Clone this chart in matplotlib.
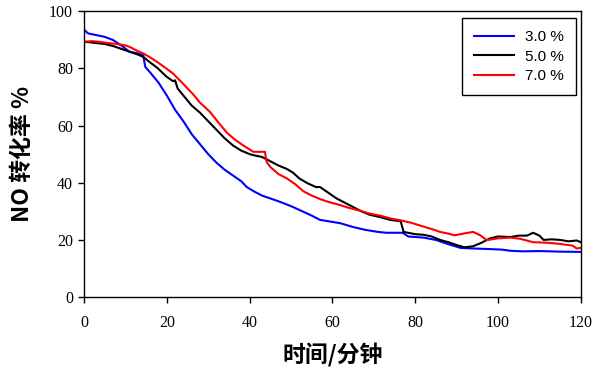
import matplotlib
matplotlib.use("Agg")
import matplotlib.pyplot as plt

# ---- data ----
t_3 = [0, 1, 3, 5, 7, 9, 11, 13, 14.3, 14.8, 16, 18, 20, 22, 24, 26, 28, 30, 32, 34, 36, 38, 39.3,
       41, 43, 45, 47, 50, 52, 55, 57, 60, 62, 65, 68, 71, 73, 77, 78.3, 82, 85, 88, 91, 94, 98,
       101, 103, 106, 110, 115, 120]
v_3 = [93.5, 92.2, 91.6, 91.0, 89.9, 88.0, 85.8, 85.2, 84.5, 80.5, 78.5, 75.0, 70.5, 65.5, 61.5,
       57.0, 53.5, 50.0, 47.0, 44.5, 42.5, 40.5, 38.5, 37.0, 35.5, 34.5, 33.5, 31.8, 30.5, 28.5,
       27.0, 26.3, 25.8, 24.5, 23.5, 22.8, 22.5, 22.5, 21.2, 20.8, 20.0, 18.5, 17.2, 17.0, 16.8,
       16.6, 16.2, 16.0, 16.1, 15.9, 15.8]

t_5 = [0, 2, 5, 7, 9, 11, 13, 14.3, 16, 17.6, 20, 21.5, 22, 22.6, 24, 26, 28, 30, 32, 34, 36, 38,
       40, 41, 43, 45, 47, 49, 50.5, 52, 54, 56, 57, 59, 61, 63, 65, 67, 69, 72, 74, 76.5, 77.2,
       80, 82, 84, 86, 88, 90, 92, 94, 96, 98, 100, 103, 105, 107, 108.5, 110, 111, 113, 115,
       117, 119, 120]
v_5 = [89.3, 89.0, 88.5, 87.8, 86.8, 85.8, 84.8, 84.0, 82.0, 80.3, 77.0, 75.5, 75.8, 73.0, 70.5,
       67.0, 64.5, 61.5, 58.5, 55.5, 53.0, 51.2, 50.0, 49.6, 49.0, 47.5, 46.0, 44.8, 43.5, 41.5,
       39.8, 38.5, 38.5, 36.5, 34.5, 33.0, 31.5, 30.0, 28.8, 27.8, 27.0, 26.5, 22.8, 22.0, 21.8,
       21.2, 20.0, 19.2, 18.2, 17.4, 17.8, 19.0, 20.5, 21.2, 21.0, 21.5, 21.5, 22.5, 21.5, 20.0,
       20.2, 20.0, 19.5, 19.8, 19.2]

t_7 = [0, 2, 4, 6, 8, 10, 11, 13, 14.3, 16, 17.6, 20, 21.5, 24, 26.3, 28, 30.4, 32.5, 34.5, 36.5,
       38.5, 40.9, 43.7, 44.1, 45, 47, 49, 51, 53, 55, 57, 59, 61.8, 64, 66.7, 69, 71.5, 74, 76.3,
       79, 81.2, 84, 86, 88, 89.5, 92, 94, 95.6, 97.3, 99.7, 103, 105.3, 108.5, 112, 115, 118,
       119, 120]
v_7 = [89.3, 89.5, 89.2, 88.8, 88.5, 88.0, 87.5, 86.0, 85.2, 83.8, 82.3, 79.8, 78.2, 74.5, 71.0,
       68.0, 64.8, 61.0, 57.5, 55.0, 53.0, 50.8, 50.8, 47.3, 45.5, 43.0, 41.5, 39.5, 37.0, 35.5,
       34.3, 33.3, 32.2, 31.2, 30.2, 29.2, 28.5, 27.5, 26.9, 26.0, 25.0, 23.8, 22.8, 22.2, 21.6,
       22.3, 22.8, 21.7, 19.9, 20.5, 20.8, 20.4, 19.2, 19.0, 18.6, 18.0, 17.0, 17.2]

labels = ["3.0 %", "5.0 %", "7.0 %"]
colors = ["#0000ff", "#000000", "#ff0000"]
x_ticks = [0, 20, 40, 60, 80, 100, 120]
y_ticks = [0, 20, 40, 60, 80, 100]
xlabel = "时间/分钟"
ylabel = "NO 转化率 %"

# ---- figure ----
fig = plt.figure(figsize=(6.0, 3.7), dpi=100)
ax = fig.add_axes([0.14, 0.197, 0.828, 0.773])

for t, v, lab, c in zip([t_3, t_5, t_7], [v_3, v_5, v_7], labels, colors):
    ax.plot(t, v, color=c, lw=1.5, label=lab)

ax.set_xlim(0, 120)
ax.set_ylim(0, 100)
ax.set_xticks(x_ticks)
ax.set_yticks(y_ticks)
ax.tick_params(direction="out", length=4, width=1, top=False, right=False,
               labelsize=11.5)
ax.tick_params(axis="x", pad=9)
ax.tick_params(axis="y", pad=4)
for lbl in ax.get_xticklabels() + ax.get_yticklabels():
    lbl.set_family("Liberation Serif")
for s in ax.spines.values():
    s.set_linewidth(1.0)
    s.set_color("black")

ax.set_xlabel(xlabel, fontsize=16.5, fontweight="bold",
              family=["Noto Sans CJK SC", "DejaVu Sans"], labelpad=9)
ax.set_ylabel(ylabel, fontsize=16.5, fontweight="bold",
              family=["Noto Sans CJK SC", "DejaVu Sans"], labelpad=11)

leg = ax.legend(loc="upper right", bbox_to_anchor=(0.99, 0.975), frameon=True,
                fancybox=False, edgecolor="black", framealpha=1,
                prop={"family": "Liberation Sans", "size": 11},
                handlelength=2.6, labelspacing=0.35, borderpad=0.8,
                handletextpad=0.7, borderaxespad=0)
leg.get_frame().set_linewidth(1.0)

fig.savefig("out.png", dpi=100)
